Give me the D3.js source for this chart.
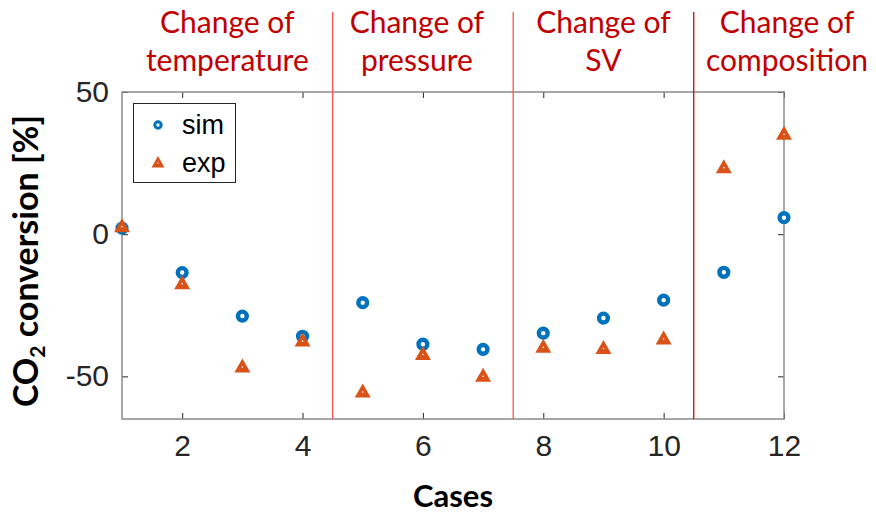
<!DOCTYPE html>
<html>
<head>
<meta charset="utf-8">
<script src="https://cdn.jsdelivr.net/npm/d3@7"></script>
<style>
  html, body { margin: 0; padding: 0; background: #fff; }
  svg { display: block; }
</style>
</head>
<body>
<svg id="chart" width="876" height="518"></svg>
<script>
// Case numbers and CO2 conversion values (%)
const cases = [1, 2, 3, 4, 5, 6, 7, 8, 9, 10, 11, 12];
const simValues = [2.1, -13.5, -28.8, -35.9, -24.1, -38.7, -40.5, -34.8, -29.5, -23.2, -13.4, 5.8];
const expValues = [2.6, -17.4, -46.7, -37.6, -55.5, -42.3, -50.0, -39.8, -40.2, -36.9, 23.4, 35.1];

// Axis ticks
const xTicks = [2, 4, 6, 8, 10, 12];
const yTicks = [-50, 0, 50];

// Section separators and their headings
const separators = [4.5, 7.5, 10.5];
const separatorColors = ["#ff5050", "#ff5050", "#e00000"];
const sectionLines1 = ["Change of", "Change of", "Change of", "Change of"];
const sectionLines2 = ["temperature", "pressure", "SV", "composition"];
const sectionCenters = [2.75, 5.9, 9.0, 12.05];

const svg = d3.select("#chart");
const plotLeft = 122, plotRight = 784, plotTop = 92, plotBottom = 419;

const x = d3.scaleLinear().domain([1, 12]).range([plotLeft, plotRight]);
const y = d3.scaleLinear().domain([-65, 50]).range([plotBottom, plotTop]);

const tickFont = "'Liberation Sans', Arial, Helvetica, sans-serif";
const headFont = "Lato, 'Open Sans', sans-serif";
const plainNumber = d => String(d);

// Box axes with inward ticks
const axisGrey = "#8a8a8a";
const tickColor = "#262626";

function styleAxis(g) {
  g.select(".domain").remove();
  g.selectAll(".tick line").attr("stroke", tickColor).attr("stroke-width", 1);
  g.selectAll(".tick text")
    .attr("fill", "#262626")
    .style("font-family", tickFont)
    .style("font-size", "30px");
}

svg.append("g")
  .attr("transform", `translate(0,${plotBottom})`)
  .call(d3.axisBottom(x).tickValues(xTicks).tickFormat(plainNumber)
    .tickSizeInner(-6).tickSizeOuter(0).tickPadding(16))
  .call(styleAxis);

svg.append("g")
  .attr("transform", `translate(0,${plotTop})`)
  .call(d3.axisTop(x).tickValues(xTicks).tickSizeInner(-6).tickSizeOuter(0).tickFormat(""))
  .call(styleAxis);

svg.append("g")
  .attr("transform", `translate(${plotLeft},0)`)
  .call(d3.axisLeft(y).tickValues(yTicks).tickFormat(plainNumber)
    .tickSizeInner(-6).tickSizeOuter(0).tickPadding(13))
  .call(styleAxis);

svg.append("g")
  .attr("transform", `translate(${plotRight},0)`)
  .call(d3.axisRight(y).tickValues(yTicks).tickSizeInner(-6).tickSizeOuter(0).tickFormat(""))
  .call(styleAxis);

// Plot frame
svg.append("rect")
  .attr("x", plotLeft).attr("y", plotTop)
  .attr("width", plotRight - plotLeft).attr("height", plotBottom - plotTop)
  .attr("fill", "none")
  .attr("stroke", axisGrey)
  .attr("stroke-width", 1.5);

// Section separators
svg.append("g").selectAll("line")
  .data(separators)
  .join("line")
  .attr("x1", d => x(d)).attr("x2", d => x(d))
  .attr("y1", 12).attr("y2", plotBottom)
  .attr("stroke", (d, i) => separatorColors[i])
  .attr("stroke-width", 1.3);

// Section headings
const heads = svg.append("g")
  .attr("fill", "#c00000")
  .style("font-family", headFont)
  .style("font-size", "30px")
  .attr("text-anchor", "middle");

heads.selectAll("text.l1")
  .data(sectionLines1)
  .join("text")
  .attr("class", "l1")
  .attr("x", (d, i) => x(sectionCenters[i]))
  .attr("y", 33)
  .text(d => d);

heads.selectAll("text.l2")
  .data(sectionLines2)
  .join("text")
  .attr("class", "l2")
  .attr("x", (d, i) => x(sectionCenters[i]))
  .attr("y", 71)
  .text(d => d);

// Markers
const simColor = "#0072bd";
const expColor = "#d95319";
const triPath = "M0,-8.5L8,5.5L-8,5.5Z";

const simG = svg.append("g");
const expG = svg.append("g");

simG.selectAll("circle")
  .data(cases)
  .join("circle")
  .attr("cx", d => x(d))
  .attr("cy", (d, i) => y(simValues[i]))
  .attr("r", 4.4)
  .attr("fill", "#fff")
  .attr("stroke", simColor)
  .attr("stroke-width", 4.4);

expG.selectAll("path")
  .data(cases)
  .join("path")
  .attr("transform", (d, i) => `translate(${x(d)},${y(expValues[i])})`)
  .attr("d", triPath)
  .attr("fill", expColor);

expG.selectAll("circle")
  .data(cases)
  .join("circle")
  .attr("cx", d => x(d))
  .attr("cy", (d, i) => y(expValues[i]))
  .attr("r", 0.8)
  .attr("fill", "#fff");

// Legend
const legend = svg.append("g");
legend.append("rect")
  .attr("x", 133.5).attr("y", 103.5)
  .attr("width", 102).attr("height", 79)
  .attr("fill", "#fff")
  .attr("stroke", "#262626")
  .attr("stroke-width", 1);

legend.append("circle")
  .attr("cx", 158).attr("cy", 125)
  .attr("r", 3.2)
  .attr("fill", "#fff")
  .attr("stroke", simColor)
  .attr("stroke-width", 3);

legend.append("path")
  .attr("transform", "translate(158,163)")
  .attr("d", "M0,-7L6.5,4.5L-6.5,4.5Z")
  .attr("fill", expColor);
legend.append("circle")
  .attr("cx", 158).attr("cy", 163)
  .attr("r", 0.7).attr("fill", "#fff");

legend.selectAll("text")
  .data(["sim", "exp"])
  .join("text")
  .attr("x", 182)
  .attr("y", (d, i) => 134 + i * 38)
  .attr("fill", "#000")
  .style("font-family", tickFont)
  .style("font-size", "27px")
  .text(d => d);

// Axis titles
const yTitle = svg.append("text")
  .attr("transform", "translate(38,261) rotate(-90)")
  .attr("text-anchor", "middle")
  .attr("fill", "#000")
  .style("font-family", headFont)
  .style("font-weight", "bold")
  .style("font-size", "34px");
yTitle.append("tspan").text("CO");
yTitle.append("tspan").attr("dy", 7).style("font-size", "21px").text("2");
yTitle.append("tspan").attr("dy", -7).text(" conversion [%]");

svg.append("text")
  .attr("x", (plotLeft + plotRight) / 2)
  .attr("y", 507)
  .attr("text-anchor", "middle")
  .attr("fill", "#000")
  .style("font-family", headFont)
  .style("font-weight", "bold")
  .style("font-size", "31px")
  .text("Cases");
</script>
</body>
</html>
